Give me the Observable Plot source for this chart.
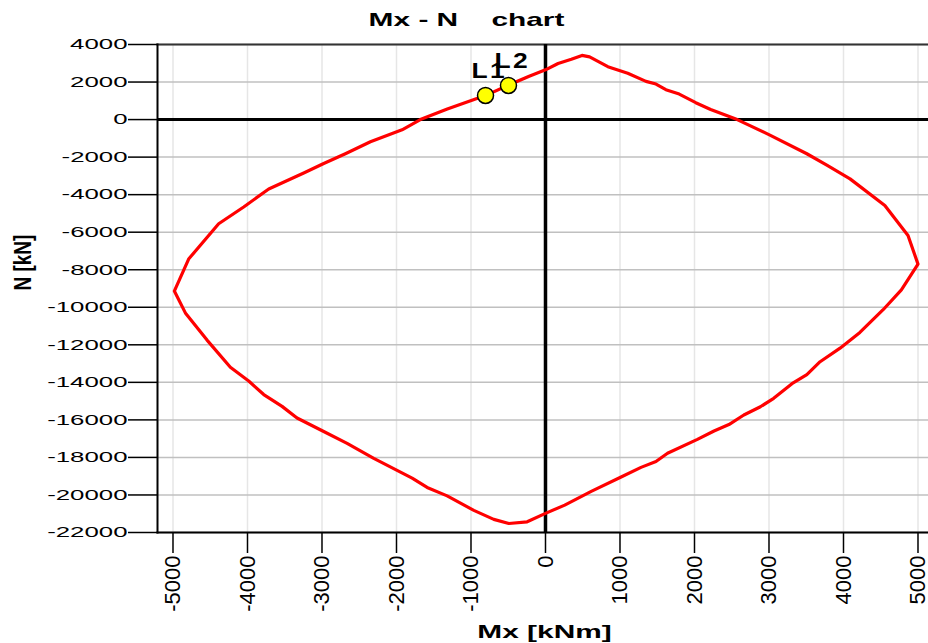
<!DOCTYPE html>
<html>
<head>
<meta charset="utf-8">
<script src="https://cdn.jsdelivr.net/npm/d3@7"></script>
<script src="https://cdn.jsdelivr.net/npm/@observablehq/plot@0.6"></script>
<style>
  body { margin: 0; background: #fff; }
  svg text { white-space: pre; }
</style>
</head>
<body>
<div id="chart"></div>
<script>
const title = "Mx - N    chart";
const xLabel = "Mx [kNm]";
const yLabel = "N [kN]";

// Interaction curve (closed), Mx [kNm]
const mxValues = [
  -1680, -1318, -977, -800, -500, -227, 0, 169, 347, 490,
  592, 837, 1104, 1349, 1483, 1616, 1795, 2017, 2217, 2573,
  3019, 3508, 3776, 4088, 4555, 4866, 5000, 4777, 4532, 4220,
  3954, 3686, 3508, 3308, 3063, 2885, 2662, 2462, 2262, 2039,
  1638, 1483, 1282, 1015, 614, 258, 0, -246, -492, -694,
  -962, -1320, -1589, -1790, -2305, -2663, -2977, -3335, -3536, -3782,
  -3984, -4230, -4543, -4834, -4982, -4790, -4387, -4051, -3715, -3245,
  -2977, -2686, -2350, -1925
];
// Interaction curve (closed), N [kN]
const nValues = [
  0, 560, 1040, 1290, 1830, 2300, 2650, 2990, 3217, 3420,
  3340, 2817, 2470, 2035, 1893, 1590, 1360, 900, 540, 0,
  -840, -1820, -2430, -3160, -4580, -6180, -7700, -9070, -10130, -11340,
  -12180, -12900, -13590, -14070, -14850, -15300, -15740, -16250, -16590, -17040,
  -17780, -18220, -18530, -19040, -19810, -20540, -20980, -21430, -21520, -21300,
  -20820, -20050, -19600, -19100, -18050, -17250, -16620, -15900, -15280, -14650,
  -13930, -13200, -11750, -10300, -9135, -7430, -5550, -4660, -3695, -2850,
  -2340, -1818, -1180, -545
];

// Load points
const pointLabels = ["L1", "L2"];
const pointMx = [-805, -497];
const pointN = [1283, 1818];

const xTicks = [-5000, -4000, -3000, -2000, -1000, 0, 1000, 2000, 3000, 4000, 5000];
const yTicks = [4000, 2000, 0, -2000, -4000, -6000, -8000, -10000, -12000, -14000, -16000, -18000, -20000, -22000];

const curve = mxValues.map((mx, i) => ({mx, n: nValues[i]}));
const pts = pointLabels.map((label, i) => ({label, mx: pointMx[i], n: pointN[i]}));

const font = "'Liberation Sans', Arial, sans-serif";

const chart = Plot.plot({
  width: 928,
  height: 643,
  marginLeft: 157,
  marginRight: 0,
  marginTop: 44,
  marginBottom: 111,
  style: {fontFamily: font, background: "#fff", color: "#000", overflow: "visible"},
  x: {domain: [-5208, 5141]},
  y: {domain: [-22000, 4000]},
  marks: [
    Plot.ruleX(xTicks, {stroke: "#e6e6e6", strokeWidth: 1.5}),
    Plot.ruleY(yTicks, {stroke: "#c0c0c0", strokeWidth: 1.5}),
    Plot.frame({anchor: "top", stroke: "#333", strokeWidth: 2}),
    Plot.frame({anchor: "bottom", stroke: "#000", strokeWidth: 2}),
    Plot.frame({anchor: "left", stroke: "#000", strokeWidth: 2}),
    Plot.ruleX([0], {stroke: "#000", strokeWidth: 3.5}),
    Plot.ruleY([0], {stroke: "#000", strokeWidth: 3}),
    Plot.line(curve, {x: "mx", y: "n", stroke: "#ff0000", strokeWidth: 3.2, curve: "linear-closed"}),
    Plot.text(pts, {x: "mx", y: "n", text: "label", textAnchor: "start", lineAnchor: "bottom",
      dx: -14, dy: -17, fontSize: 22, fontWeight: "bold", fill: "#000"}),
    Plot.dot(pts, {x: "mx", y: "n", r: 8, fill: "#ffff00", stroke: "#000", strokeWidth: 1.5}),
    Plot.axisY(yTicks, {anchor: "left", tickSize: 29, tickPadding: 1, fontSize: 15,
      tickFormat: d => String(d), label: null, strokeWidth: 1.5}),
    Plot.axisX(xTicks, {anchor: "bottom", tickSize: 21, tickPadding: 2, fontSize: 22, tickRotate: -90,
      textAnchor: "end", lineAnchor: "middle", tickFormat: d => String(d), label: null, strokeWidth: 1.5}),
    Plot.text([title], {frameAnchor: "top", dx: -76.5, dy: -19, lineAnchor: "bottom",
      fontSize: 18, fontWeight: "bold", fill: "#000"}),
    Plot.text([xLabel], {frameAnchor: "bottom", dx: 1.5, dy: 105, lineAnchor: "bottom",
      fontSize: 18, fontWeight: "bold", fill: "#000"}),
    Plot.text([yLabel], {frameAnchor: "left", dx: -134.5, dy: 2, rotate: -90, lineAnchor: "middle",
      fontSize: 19, fontWeight: "bold", fill: "#000"})
  ]
});

document.getElementById("chart").append(chart);

// The reference's lettering is horizontally widened; reproduce by scaling the glyphs in place.
function stretch(el, sx, sy) {
  let t = el.getAttribute("transform");
  if (!t) {
    const x = el.getAttribute("x") || 0, y = el.getAttribute("y") || 0;
    el.removeAttribute("x"); el.removeAttribute("y");
    t = `translate(${x},${y})`;
  }
  el.setAttribute("transform", `${t} scale(${sx},${sy})`);
}
chart.querySelectorAll('g[aria-label="y-axis tick label"] text').forEach(el => stretch(el, 1.72, 1));
chart.querySelectorAll('g[aria-label="x-axis tick label"] text').forEach(el => stretch(el, 1, 1.04));
chart.querySelectorAll('g[aria-label="text"] text').forEach(el => {
  const s = el.textContent;
  if (s === title || s === xLabel) stretch(el, 1.66, 1);
  else if (s === yLabel) stretch(el, 1, 1.3);
  else if (pointLabels.includes(s)) { el.style.letterSpacing = "2px"; stretch(el, 1.2, 1); }
});
</script>
</body>
</html>
